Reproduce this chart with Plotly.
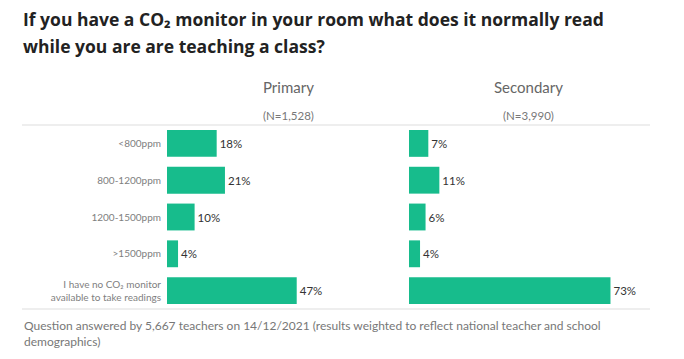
import plotly.graph_objects as go

categories = ["<800ppm", "800-1200ppm", "1200-1500ppm", ">1500ppm",
              "I have no CO₂ monitor<br>available to take readings"]
primary = [18, 21, 10, 4, 47]
secondary = [7, 11, 6, 4, 73]
panel_titles = ["Primary", "Secondary"]
panel_ns = ["(N=1,528)", "(N=3,990)"]
title_lines = ["If you have a CO₂ monitor in your room what does it normally read",
               "while you are are teaching a class?"]
footnote = ("Question answered by 5,667 teachers on 14/12/2021 (results weighted to reflect national teacher and school"
            "<br>demographics)")

W, H = 684, 359
GREEN = "#17BC8C"
FONT = "Lato"

def px(x):
    return x / W

def py(y):
    return 1 - y / H

scale = 2.76  # px per percent
p_l, p_r = 167, 400
s_l, s_r = 409, 650
top, bot = 125, 309

fig = go.Figure()
for vals, xa, ya in [(primary, "x", "y"), (secondary, "x2", "y2")]:
    fig.add_trace(go.Bar(
        x=vals, y=categories, orientation="h", xaxis=xa, yaxis=ya,
        marker=dict(color=GREEN, line=dict(width=0)),
        text=[f"{v}%" for v in vals], textposition="outside",
        textfont=dict(family=FONT, size=11.5, color="#333"),
        cliponaxis=False, hoverinfo="skip", showlegend=False,
    ))

fig.update_layout(
    width=W, height=H, margin=dict(l=0, r=0, t=0, b=0),
    paper_bgcolor="white", plot_bgcolor="white",
    bargap=0.27,
    xaxis=dict(domain=[px(p_l), px(p_r)], range=[0, (p_r - p_l) / scale],
               visible=False, fixedrange=True),
    xaxis2=dict(domain=[px(s_l), px(s_r)], range=[0, (s_r - s_l) / scale],
                visible=False, fixedrange=True),
    yaxis=dict(domain=[py(bot), py(top)], autorange="reversed", showgrid=False,
               zeroline=False, showline=False, ticks="", ticklabelstandoff=5,
               tickfont=dict(family=FONT, size=10, color="#808080"), fixedrange=True),
    yaxis2=dict(domain=[py(bot), py(top)], autorange="reversed", anchor="x2",
                showticklabels=False, showgrid=False, zeroline=False, fixedrange=True),
)

shapes = []
for y in (top, bot):
    shapes.append(dict(type="line", xref="paper", yref="paper",
                       x0=px(22), x1=px(650), y0=py(y), y1=py(y),
                       line=dict(color="#dddddd", width=1)))
fig.update_layout(shapes=shapes)

ann = []
for i, line in enumerate(title_lines):
    ann.append(dict(text=f"<b>{line}</b>", x=px(21), y=py(19 + 27 * i), xref="paper", yref="paper",
                    xanchor="left", yanchor="middle", showarrow=False,
                    font=dict(family="Open Sans", size=17.5, color="#222")))
for cx, t, n in [(288, panel_titles[0], panel_ns[0]), (528, panel_titles[1], panel_ns[1])]:
    ann.append(dict(text=t, x=px(cx), y=py(87), xref="paper", yref="paper",
                    xanchor="center", yanchor="middle", showarrow=False,
                    font=dict(family=FONT, size=15, color="#666")))
    ann.append(dict(text=n, x=px(cx), y=py(115), xref="paper", yref="paper",
                    xanchor="center", yanchor="middle", showarrow=False,
                    font=dict(family=FONT, size=11.5, color="#777")))
ann.append(dict(text=footnote, x=px(22), y=py(333), xref="paper", yref="paper",
                xanchor="left", yanchor="middle", align="left", showarrow=False,
                font=dict(family=FONT, size=12, color="#777")))
fig.update_layout(annotations=ann)

fig.write_html("out.html", config={"displayModeBar": False},
               post_script="document.body.style.margin='0';")
